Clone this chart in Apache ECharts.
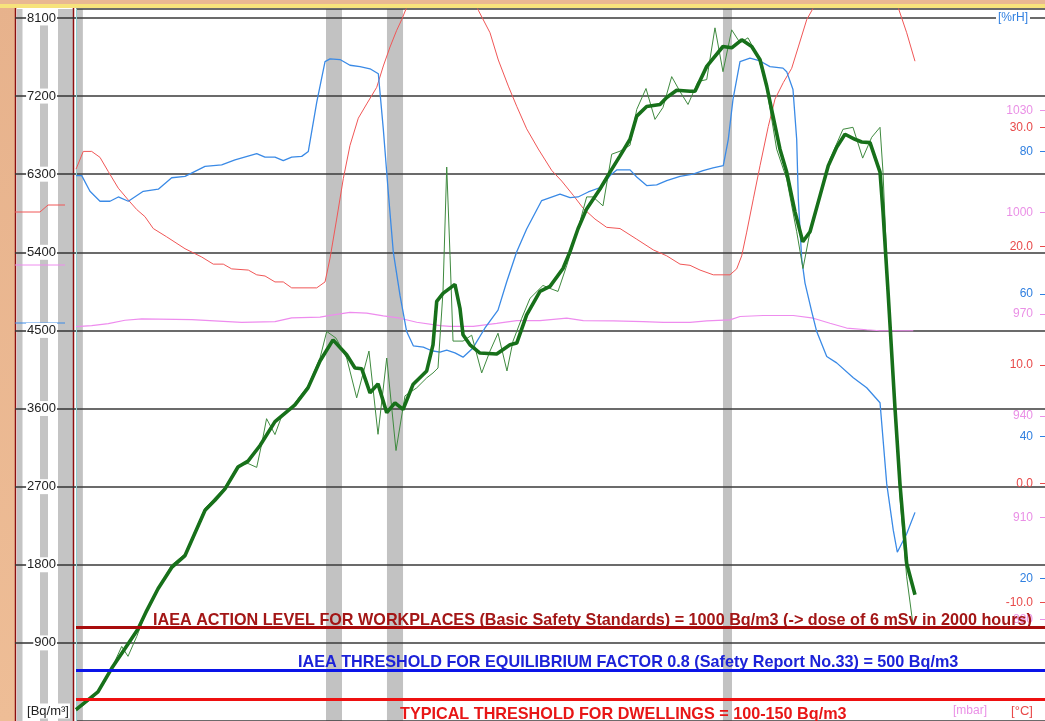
<!DOCTYPE html>
<html><head><meta charset="utf-8">
<script src="https://cdn.jsdelivr.net/npm/echarts@6/dist/echarts.min.js"></script>
<style>html,body{margin:0;padding:0;background:#fff;overflow:hidden}#c{width:1045px;height:721px}</style>
</head><body><div id="c"></div>
<script>
// ---- data (time in hours) ----
const tAvg=[0,2.72,4.42,6.07,7.68,8.76,10.16,11.85,13.5,15.98,17.2,18.45,20.06,21.3,22.79,24.64,27.12,28.73,30.22,31.83,33.52,34.55,35.38,36.41,37.4,38.48,39.5,40.5,41.73,43.43,44.21,44.67,45.45,46.93,47.55,47.93,48.79,50.03,52.1,53.75,54.58,55.81,57.46,58.7,60.31,61.18,62.17,63.24,64.89,66.13,67.37,68.61,69.44,70.67,72.32,73.15,74.39,76.04,76.66,78.11,80.12,81.2,82.44,83.68,84.71,85.54,86.32,87.18,88.01,89.04,90.0,90.9,92.14,93.16,94.2,95.23,96.47,97.3,98.33,99.57,99.94,100.56,101.42,102.04,102.87,103.9];
const radonAvg=[132,336,607,836,1059,1272,1524,1769,1906,2429,2543,2675,2926,2994,3174,3449,3643,3838,4147,4391,4220,4067,4059,3781,3884,3552,3666,3589,3876,4033,4334,4835,4927,5030,4755,4449,4334,4239,4228,4334,4354,4678,4949,5007,5213,5408,5671,5900,6129,6324,6511,6702,6969,7080,7103,7184,7267,7256,7256,7542,7771,7756,7848,7771,7619,7313,6969,6588,6324,5866,5522,5637,6053,6396,6611,6760,6702,6671,6664,6324,5866,4949,3609,2730,1814,1455];
const tRaw=[0,2.72,4.42,5.66,6.44,7.52,8.76,10.16,11.85,13.5,15.98,18.45,20.06,21.3,22.38,23.03,23.6,24.64,25.4,27.12,28.73,30.22,31.05,32.2,33.52,34.76,36.28,37.4,38.48,39.63,40.74,42.19,43.43,44.21,44.83,45.45,45.91,46.32,46.69,47.93,49.0,50.24,51.27,52.26,53.37,54.12,55.2,56.22,57.83,58.7,59.69,60.77,62.17,63.24,64.03,65.26,66.34,67.37,68.61,69.44,70.59,71.7,72.69,73.77,74.8,75.79,77.03,78.11,79.13,80.12,81.2,82.23,83.22,84.46,85.45,86.77,88.01,89.25,90.03,90.9,92.14,93.37,94.98,96.22,97.42,98.54,99.57,99.94,100.56,101.42,102.04,102.87,103.65];
const radonRaw=[115,321,607,859,745,974,1272,1524,1799,1925,2452,2692,2944,2967,2922,3208,3483,3300,3494,3666,3861,4182,4488,4411,4182,3723,4262,3303,4182,3116,3746,3838,3953,4010,4067,4949,6382,5362,4377,4377,4445,4010,4262,4468,4033,4377,4640,4869,5018,4984,4949,5247,5671,6038,6038,5935,6530,6565,6633,7046,7287,6931,7069,7424,7252,7103,7367,7390,7986,7481,7963,7814,7871,7653,7332,6588,6244,5637,5213,5637,6061,6473,6817,6840,6485,6725,6840,6324,4949,3609,2578,1661,1111];
const tHum=[0,0.71,1.73,2.97,4.21,5.24,6.48,8.33,10.19,11.85,13.5,15.98,18.04,19.69,22.38,23.4,24.64,25.67,26.71,27.95,28.77,29.81,30.84,31.46,32.69,33.93,35.17,36.41,37.44,38.06,38.67,39.29,40.12,40.95,41.77,43.01,44.05,45.08,45.91,46.93,47.93,49.16,50.65,52.26,53.34,54.58,55.81,57.67,59.94,61.18,62.17,63.44,65.1,66.13,66.96,68.61,69.44,70.67,71.91,73.15,74.8,76.41,77.65,78.89,80.16,80.78,81.36,82.23,83.47,84.71,85.94,87.55,88.01,88.79,89.25,89.45,89.87,90.28,91.11,91.73,92.97,94.2,96.26,97.92,99.57,100.4,101.21,101.71,102.87,103.9];
const humidity=[76.6,76.6,74.4,73.0,73.0,73.6,73.0,74.4,74.7,76.3,76.5,77.9,78.1,78.8,79.7,79.2,79.2,78.7,79.2,79.3,80.0,86.9,92.6,93.0,92.9,92.1,91.9,91.6,90.9,83.1,74.3,65.9,59.8,54.7,52.7,52.5,52.0,51.8,52.1,51.7,51.1,52.4,55.2,57.7,61.7,65.9,69.1,73.1,74.0,73.5,73.6,74.3,75.0,76.6,77.4,77.4,76.4,75.2,75.3,75.9,76.5,76.8,77.3,77.7,78.0,81.7,87.3,92.6,93.1,92.7,91.9,91.7,91.2,88.7,81.7,73.3,64.9,61.5,57.5,54.7,51.2,50.3,48.2,46.8,44.7,33.3,26.8,23.7,26.3,29.3];
const tTemp=[0,0.9,1.94,2.97,4.0,5.24,6.48,7.52,8.54,9.57,11.23,13.5,15.57,17.0,18.24,19.28,21.34,22.38,23.41,24.64,25.67,26.71,29.81,30.84,31.46,32.28,33.1,33.93,34.96,36.0,37.24,38.06,38.89,39.71,40.33,40.87,43.84,46.93,49.82,51.27,52.3,53.54,54.58,55.81,57.25,58.91,60.15,61.58,62.82,64.27,65.72,67.37,69.44,71.49,73.15,74.8,76.04,77.28,78.92,80.99,81.82,82.44,83.06,83.88,84.71,85.73,86.56,87.59,88.63,89.45,90.49,91.31,94.61,98.33,101.83,102.87,103.9];
const temperature=[26.5,28.0,28.0,27.5,26.3,24.9,23.9,23.1,22.5,21.5,20.8,19.8,19.1,18.5,18.5,18.1,18.0,17.6,17.5,17.0,17.0,16.5,16.5,17.0,19.0,22.3,25.7,28.5,30.8,32.0,33.4,35.2,36.8,38.2,39.1,40.0,44.1,44.1,39.9,38.0,35.7,33.5,31.8,29.9,28.2,26.4,25.5,24.3,23.2,22.3,21.6,21.5,20.6,19.7,19.2,18.5,18.4,18.0,17.6,17.6,18.1,19.2,21.2,24.0,26.8,30.1,32.4,33.8,35.0,36.8,39.1,40.1,44.9,44.9,40.1,38.0,35.6];
const tPres=[0,1.94,4.0,6.07,8.14,14.33,20.52,24.64,26.71,30.22,31.86,33.93,36.0,38.06,40.12,42.19,45.08,46.32,49.2,52.1,54.58,57.46,60.77,62.82,66.54,70.25,72.73,76.04,78.11,80.99,82.23,85.11,88.83,91.31,93.37,95.44,97.92,99.57,103.69];
const pressure=[966.3,966.6,967.2,968.2,968.6,968.4,967.6,967.8,968.9,969.1,969.8,970.5,970.3,969.5,968.8,967.6,966.6,966.4,966.4,967.3,968.1,968.1,968.8,968.1,968.0,967.8,967.6,967.6,968.0,968.3,969.3,969.6,969.6,968.8,967.3,965.9,965.4,965.1,965.1];
const eventStart=[0,30.96,38.51,80.12];
const eventEnd=[0.85,32.94,40.5,81.24];
const thresholdValues=[1080,590,250];
const thresholdTexts=[
 'IAEA ACTION LEVEL FOR WORKPLACES (Basic Safety Standards) = 1000 Bq/m3 (-> dose of 6 mSv in 2000 hours)',
 'IAEA THRESHOLD FOR EQUILIBRIUM FACTOR 0.8 (Safety Report No.33) = 500 Bq/m3',
 'TYPICAL THRESHOLD FOR DWELLINGS = 100-150 Bq/m3'];

const FONT='"Liberation Sans", Arial, sans-serif';
const zip=(t,v)=>t.slice(0,Math.min(t.length,v.length)).map((x,i)=>[x,v[i]]);

const thrStyle=[
 {line:'#a80c0c',text:'#a31616',pos:'insideStartTop',dist:[77,-1]},
 {line:'#0a14e8',text:'#1c22d8',pos:'insideStartTop',dist:[222,-1]},
 {line:'#ee1010',text:'#e81616',pos:'insideStartBottom',dist:[324,7]}];

const chart=echarts.init(document.getElementById('c'),null,{renderer:'canvas'});
const rightAxis=(min,max,interval,color,fmt)=>({
  type:'value',position:'right',min,max,interval,offset:0,
  axisLine:{show:false},splitLine:{show:false},
  axisTick:{show:true,inside:true,length:5,lineStyle:{color,width:1}},
  axisLabel:{inside:true,margin:12,color,fontSize:12,fontFamily:FONT,
    showMinLabel:false,showMaxLabel:false,formatter:fmt}
});
chart.setOption({
  animation:false,
  backgroundColor:'#ffffff',
  grid:{left:76,right:0,top:9,bottom:-4,containLabel:false},
  xAxis:{type:'value',min:0,max:120,show:false},
  yAxis:[
    {type:'value',position:'left',min:0,max:8203,interval:900,
     axisLine:{show:true,lineStyle:{color:'#8fd3d3',width:1}},
     axisTick:{show:true,length:61,lineStyle:{color:'#333',width:1.5}},
     axisLabel:{margin:19,fontSize:13,color:'#222',fontFamily:FONT,backgroundColor:'#fff',padding:[1,1],
       showMinLabel:false,showMaxLabel:false,formatter:v=>String(Math.round(v))},
     splitLine:{show:true,lineStyle:{color:'#3a3a3a',width:1.6}}},
    rightAxis(850,1060,30,'#ea90e6',v=>String(v)),
    rightAxis(-20,40,10,'#e84a4a',v=>v.toFixed(1)),
    rightAxis(0,100,20,'#2f7fe0',v=>String(v))
  ],
  series:[
    {name:'events',type:'line',data:[],yAxisIndex:0,silent:true,
     markArea:{silent:true,z:-1,itemStyle:{color:'#c2c2c2'},
       data:eventStart.map((s,i)=>[{xAxis:s},{xAxis:eventEnd[i]}])}},
    {name:'Temperature',type:'line',yAxisIndex:2,data:zip(tTemp,temperature),showSymbol:false,
     lineStyle:{color:'#f05656',width:1},itemStyle:{color:'#f05656'}},
    {name:'Pressure',type:'line',yAxisIndex:1,data:zip(tPres,pressure),showSymbol:false,
     lineStyle:{color:'#ee8cee',width:1.2},itemStyle:{color:'#ee8cee'}},
    {name:'Humidity',type:'line',yAxisIndex:3,data:zip(tHum,humidity),showSymbol:false,
     lineStyle:{color:'#3a8ae6',width:1.3},itemStyle:{color:'#3a8ae6'}},
    {name:'Radon',type:'line',yAxisIndex:0,data:zip(tRaw,radonRaw),showSymbol:false,
     lineStyle:{color:'#3f8a3f',width:1},itemStyle:{color:'#3f8a3f'}},
    {name:'Radon avg',type:'line',yAxisIndex:0,data:zip(tAvg,radonAvg),showSymbol:false,
     lineStyle:{color:'#17701a',width:3.6},itemStyle:{color:'#17701a'},
     markLine:{silent:true,symbol:['none','none'],animation:false,
       data:thresholdValues.map((v,i)=>({yAxis:v,
         lineStyle:{color:thrStyle[i].line,width:3,type:'solid'},
         label:{show:true,formatter:thresholdTexts[i],position:thrStyle[i].pos,distance:thrStyle[i].dist,
           color:thrStyle[i].text,fontWeight:'bold',fontSize:16.2,fontFamily:FONT}}))}}
  ],
  graphic:[
    {type:'rect',z:-10,shape:{x:0,y:0,width:15,height:721},style:{fill:new echarts.graphic.LinearGradient(0,0,0,1,[{offset:0,color:'#e7b28c'},{offset:1,color:'#eebd96'}])}},
    {type:'rect',z:-10,shape:{x:0,y:0,width:1045,height:5},style:{fill:'#e9b892'}},
    {type:'rect',z:-10,shape:{x:0,y:4,width:1045,height:4},style:{fill:'#f7e37c'}},
    {type:'rect',z:-10,shape:{x:17,y:9,width:5.5,height:712},style:{fill:'#c4c4c4'}},
    {type:'rect',z:-10,shape:{x:40,y:25,width:8,height:696},style:{fill:'#c4c4c4'}},
    {type:'rect',z:-10,shape:{x:58,y:9,width:15,height:712},style:{fill:'#c4c4c4'}},
    {type:'line',z:-9,shape:{x1:15.5,y1:8,x2:15.5,y2:721},style:{stroke:'#8c1010',lineWidth:1.5}},
    {type:'line',z:-9,shape:{x1:73.5,y1:8,x2:73.5,y2:721},style:{stroke:'#8c1010',lineWidth:1.5}},
    {type:'polyline',z:-8,shape:{points:[[15,212],[40,212],[48,205],[65,205]]},style:{stroke:'#f05656',lineWidth:1,fill:null}},
    {type:'polyline',z:-8,shape:{points:[[15,265],[65,265]]},style:{stroke:'#ee8cee',lineWidth:1,fill:null}},
    {type:'polyline',z:-8,shape:{points:[[15,323],[65,323]]},style:{stroke:'#3a8ae6',lineWidth:1,fill:null}},
    {type:'text',z:10,x:48,y:711,style:{text:'[Bq/m³]',fill:'#222',font:'13px '+FONT,align:'center',verticalAlign:'middle',backgroundColor:'#fff',padding:[1,1]}},
    {type:'text',z:10,x:1013,y:18,style:{text:'[%rH]',fill:'#2f7fe0',font:'12px '+FONT,align:'center',verticalAlign:'middle',backgroundColor:'#fff',padding:[0,2]}},
    {type:'text',z:10,x:970,y:711,style:{text:'[mbar]',fill:'#ea90e6',font:'12px '+FONT,align:'center',verticalAlign:'middle'}},
    {type:'text',z:10,x:1022,y:711,style:{text:'[°C]',fill:'#e84a4a',font:'13px '+FONT,align:'center',verticalAlign:'middle'}}
  ]
});
</script></body></html>
